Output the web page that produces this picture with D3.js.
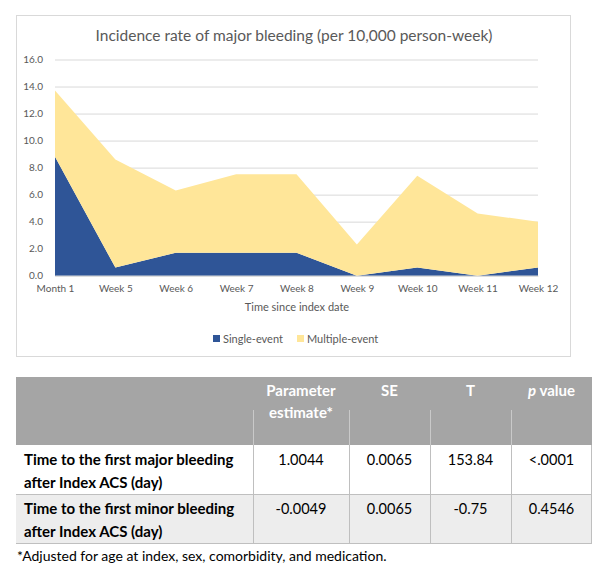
<!DOCTYPE html>
<html>
<script src='https://cdn.jsdelivr.net/npm/d3@7'></script>
<style>
 body {margin:0; background:#fff;}
 text {font-family: Lato, 'Open Sans', sans-serif;}
</style>
<body onload='init()'>
<svg width=603 height=581></svg>
<script>
// chart data
var categories = ['Month 1','Week 5','Week 6','Week 7','Week 8','Week 9','Week 10','Week 11','Week 12'];
var singleEvent = [8.8, 0.6, 1.7, 1.7, 1.7, 0.0, 0.6, 0.0, 0.6];
var multipleEvent = [4.9, 8.0, 4.6, 5.8, 5.8, 2.3, 6.8, 4.6, 3.4];
var yTicks = [0, 2, 4, 6, 8, 10, 12, 14, 16];
var seriesNames = ['Single-event', 'Multiple-event'];

// table data
var headers = ['', 'Parameter\nestimate*', 'SE', 'T', 'p value'];
var rowLabels = ['Time to the first major bleeding\nafter Index ACS (day)', 'Time to the first minor bleeding\nafter Index ACS (day)'];
var paramEst = ['1.0044', '-0.0049'];
var seVals = ['0.0065', '0.0065'];
var tVals = ['153.84', '-0.75'];
var pVals = ['<.0001', '0.4546'];
var footnote = '*Adjusted for age at index, sex, comorbidity, and medication.';

function init() {
 var svg = d3.select('svg');
 var colors = ['#2F5597', '#FFE699'];

 // chart frame
 svg.append('rect').attr('x', 16.5).attr('y', 15.5).attr('width', 554).attr('height', 341)
  .attr('fill', '#fff').attr('stroke', '#D9D9D9');
 svg.append('text').attr('x', 294).attr('y', 41).attr('text-anchor', 'middle')
  .attr('font-size', 15.5).attr('fill', '#595959').text('Incidence rate of major bleeding (per 10,000 person-week)');

 var x = d3.scalePoint().domain(categories).range([55, 538]);
 var y = d3.scaleLinear().domain([0, 16]).range([275.7, 59.5]);

 // gridlines + y labels
 var yAxis = svg.append('g').attr('transform', 'translate(55,0)')
  .call(d3.axisLeft(y).tickValues(yTicks).tickFormat(d3.format('.1f')).tickSize(-483).tickPadding(12));
 yAxis.select('.domain').remove();
 yAxis.selectAll('line').attr('stroke', '#D9D9D9');
 yAxis.selectAll('text').attr('fill', '#595959').attr('font-size', 10);

 // stacked areas
 var table = categories.map(function (c, i) { return {cat: c, s: singleEvent[i], m: multipleEvent[i]}; });
 var stack = d3.stack().keys(['s', 'm'])(table);
 var area = d3.area()
  .x(function (d) { return x(d.data.cat); })
  .y0(function (d) { return y(d[0]); })
  .y1(function (d) { return y(d[1]); });
 svg.append('g').selectAll('path').data(stack).enter().append('path')
  .attr('d', area).attr('fill', function (d, i) { return colors[i]; });

 // x axis
 var xAxis = svg.append('g').attr('transform', 'translate(0,275.7)')
  .call(d3.axisBottom(x).tickSize(0).tickPadding(9));
 xAxis.select('.domain').attr('stroke', '#D9D9D9');
 xAxis.selectAll('text').attr('fill', '#595959').attr('font-size', 10);

 svg.append('text').attr('x', 297).attr('y', 311).attr('text-anchor', 'middle')
  .attr('font-size', 11).attr('fill', '#595959').text('Time since index date');

 // legend
 var leg = svg.append('g').selectAll('g').data(seriesNames).enter().append('g')
  .attr('transform', function (d, i) { return 'translate(' + [213, 297][i] + ',335)'; });
 leg.append('rect').attr('width', 7).attr('height', 7).attr('fill', function (d, i) { return colors[i]; });
 leg.append('text').attr('x', 10).attr('y', 7.5).attr('font-size', 11).attr('fill', '#595959').text(function (d) { return d; });

 // table
 var colX = [16, 253, 349, 430, 511, 592];
 var rowY = [377, 445, 494, 543];
 svg.append('rect').attr('x', colX[0]).attr('y', rowY[0]).attr('width', colX[5] - colX[0]).attr('height', rowY[1] - rowY[0]).attr('fill', '#A5A5A5');
 svg.append('rect').attr('x', colX[0]).attr('y', rowY[2]).attr('width', colX[5] - colX[0]).attr('height', rowY[3] - rowY[2]).attr('fill', '#EDEDED');
 // header dividers (short, light)
 for (var i = 1; i < 5; i++) {
  svg.append('line').attr('x1', colX[i] + 0.5).attr('x2', colX[i] + 0.5).attr('y1', 410).attr('y2', rowY[1]).attr('stroke', '#C9C9C9');
  svg.append('line').attr('x1', colX[i] + 0.5).attr('x2', colX[i] + 0.5).attr('y1', rowY[1]).attr('y2', rowY[3]).attr('stroke', '#BFBFBF');
 }
 [rowY[2], rowY[3]].forEach(function (yy) {
  svg.append('line').attr('x1', colX[0]).attr('x2', colX[5]).attr('y1', yy + 0.5).attr('y2', yy + 0.5).attr('stroke', '#BFBFBF');
 });
 svg.append('line').attr('x1', colX[5] - 0.5).attr('x2', colX[5] - 0.5).attr('y1', rowY[1]).attr('y2', rowY[3]).attr('stroke', '#BFBFBF');

 // header text
 headers.forEach(function (h, i) {
  if (!h) return;
  var cx = (colX[i] + colX[i + 1]) / 2;
  var t = svg.append('text').attr('text-anchor', 'middle').attr('font-size', 15).attr('font-weight', 'bold').attr('fill', '#fff');
  if (h === 'p value') {
   t.attr('x', cx).attr('y', 396);
   t.append('tspan').attr('font-style', 'italic').text('p');
   t.append('tspan').text(' value');
  } else {
   h.split('\n').forEach(function (line, k) {
    t.append('tspan').attr('x', cx).attr('y', 396 + k * 22).text(line);
   });
  }
 });

 // body rows
 var cols = [paramEst, seVals, tVals, pVals];
 rowLabels.forEach(function (lab, r) {
  var t = svg.append('text').attr('font-size', 15).attr('font-weight', 'bold').attr('fill', '#000');
  lab.split('\n').forEach(function (line, k) {
   t.append('tspan').attr('x', 24).attr('y', rowY[r + 1] + 20 + k * 23).text(line);
  });
  cols.forEach(function (col, c) {
   svg.append('text').attr('x', (colX[c + 1] + colX[c + 2]) / 2).attr('y', rowY[r + 1] + 20)
    .attr('text-anchor', 'middle').attr('font-size', 14.5).attr('fill', '#000').text(col[r]);
  });
 });

 svg.append('text').attr('x', 17).attr('y', 561).attr('font-size', 14).attr('fill', '#000').text(footnote);
}
</script>
</body>
</html>
